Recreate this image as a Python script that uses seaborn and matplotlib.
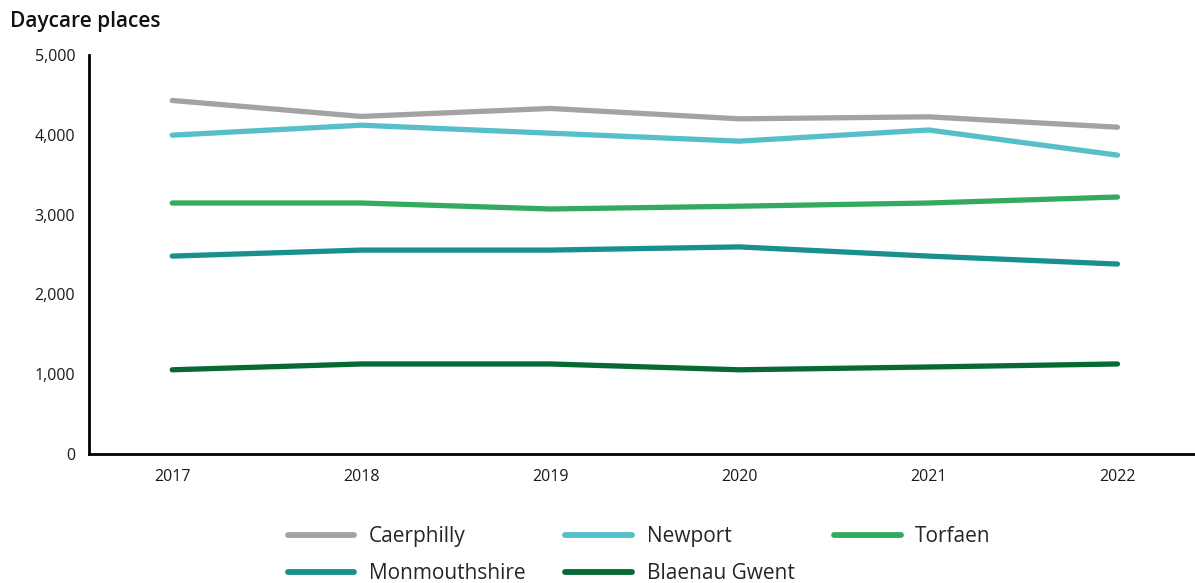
import matplotlib
matplotlib.use("Agg")
import matplotlib.pyplot as plt
import seaborn as sns
import pandas as pd
from matplotlib.lines import Line2D

years = [2017, 2018, 2019, 2020, 2021, 2022]
caerphilly = [4430, 4230, 4330, 4200, 4225, 4095]
newport = [3995, 4120, 4020, 3920, 4060, 3745]
torfaen = [3145, 3145, 3070, 3105, 3145, 3220]
monmouthshire = [2480, 2555, 2555, 2595, 2480, 2380]
blaenau_gwent = [1055, 1128, 1128, 1055, 1090, 1128]

series_names = ["Caerphilly", "Newport", "Torfaen", "Monmouthshire", "Blaenau Gwent"]
series_values = [caerphilly, newport, torfaen, monmouthshire, blaenau_gwent]
colors = ["#A3A3A3", "#57BFC9", "#34AA5F", "#17908F", "#066A35"]
y_ticks = [0, 1000, 2000, 3000, 4000, 5000]

rows = []
for name, vals in zip(series_names, series_values):
    for y, v in zip(years, vals):
        rows.append({"Year": y, "Places": v, "Area": name})
df = pd.DataFrame(rows)

sns.set_theme(style="white")
plt.rcParams["font.family"] = ["Open Sans", "DejaVu Sans"]

fig = plt.figure(figsize=(11.95, 5.83), dpi=100)
ax = fig.add_axes([0.0745, 0.2213, 0.9255, 0.6844])

sns.lineplot(data=df, x="Year", y="Places", hue="Area", hue_order=series_names,
             palette=colors, linewidth=3.8, ax=ax, legend=False)
for ln in ax.get_lines():
    ln.set_solid_capstyle("round")
    ln.set_solid_joinstyle("round")

ax.set_xlim(2016.56, 2022.41)
ax.set_ylim(0, 5000)
ax.set_xticks(years)
ax.set_xticklabels([str(y) for y in years], fontsize=11.5, color="#1a1a1a")
ax.set_yticks(y_ticks)
ax.set_yticklabels([f"{t:,}" for t in y_ticks], fontsize=11.5, color="#1a1a1a")
ax.tick_params(axis="y", length=0, pad=10)
ax.tick_params(axis="x", length=0, pad=11)
ax.set_xlabel("")
ax.set_ylabel("")
for s in ["top", "right"]:
    ax.spines[s].set_visible(False)
for s in ["left", "bottom"]:
    ax.spines[s].set_color("black")
    ax.spines[s].set_linewidth(2)

fig.text(0.008, 0.963, "Daycare places", fontsize=15, fontweight="semibold",
         color="#111111", va="center", ha="left")

handles = {n: Line2D([0], [0], color=c, linewidth=4.2, solid_capstyle="round")
           for n, c in zip(series_names, colors)}
order = ["Caerphilly", "Monmouthshire", "Newport", "Blaenau Gwent", "Torfaen"]
leg = fig.legend([handles[n] for n in order], order, loc="center",
                 bbox_to_anchor=(0.535, 0.048), ncol=3, frameon=False,
                 prop={"size": 15},
                 handlelength=3.2, handletextpad=0.7,
                 columnspacing=1.9, labelspacing=0.75)

fig.savefig("out.png", dpi=100)
